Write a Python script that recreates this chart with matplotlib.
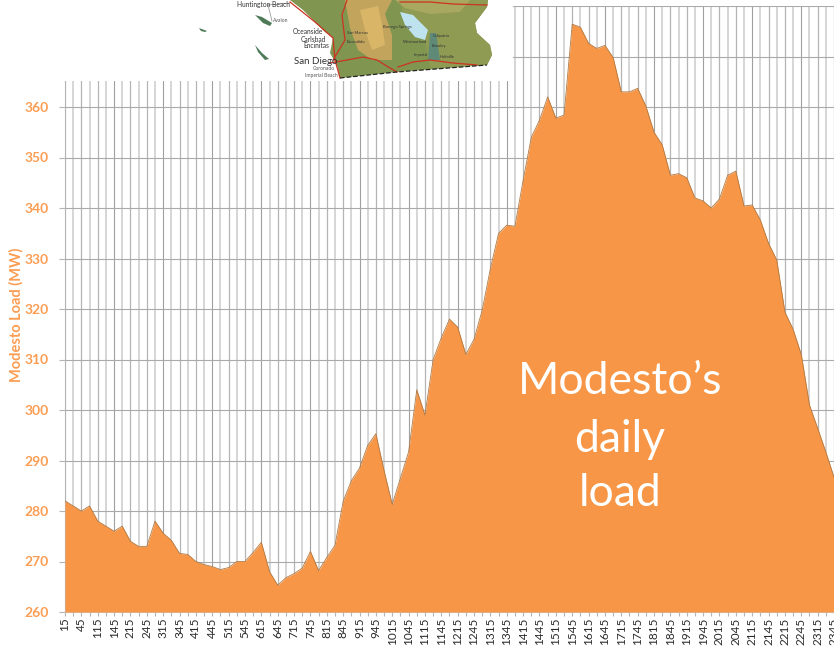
import matplotlib
matplotlib.use('Agg')
import matplotlib.pyplot as plt
from matplotlib.patches import Polygon, Rectangle

plt.rcParams['font.family'] = ['Lato', 'DejaVu Sans']

# load every 15 minutes, 0015 to 2345
times = ['15','30','45','100','115','130','145','200','215','230','245','300','315','330','345','400',
         '415','430','445','500','515','530','545','600','615','630','645','700','715','730','745','800',
         '815','830','845','900','915','930','945','1000','1015','1030','1045','1100','1115','1130','1145','1200',
         '1215','1230','1245','1300','1315','1330','1345','1400','1415','1430','1445','1500','1515','1530','1545','1600',
         '1615','1630','1645','1700','1715','1730','1745','1800','1815','1830','1845','1900','1915','1930','1945','2000',
         '2015','2030','2045','2100','2115','2130','2145','2200','2215','2230','2245','2300','2315','2330','2345']
load = [282,281,280,281,278,277,276,277,274,273,273,278,275.6,274.2,271.6,271.4,
        270,269.4,269,268.4,268.8,270,270,271.8,273.8,268,265.3,266.8,267.6,268.7,272,268.2,
        270.8,273.2,281.9,286,288.5,293,295.3,288,281.3,286.5,291.7,304,299,310,314.3,318,
        316.4,311,314,319.8,328,335,336.6,336.4,345.5,354,357.4,362,357.8,358.4,376.4,375.8,372.6,371.6,
        372.2,369.8,363,363,363.7,360.2,355,352.5,346.5,346.8,346,342,341.4,340,341.8,346.5,347.3,340.4,340.6,
        337.6,333,329.7,319.4,316,311,301,296.4,291.7,286.7]
y_ticks = [260,270,280,290,300,310,320,330,340,350,360,370,380]

orange = '#f79646'
label_orange = '#fb9d52'

fig = plt.figure(figsize=(8.34,6.46), dpi=100)
ax = fig.add_axes([65/834, 1-612/646, 769/834, 606/646])

x = list(range(len(times)))
ax.fill_between(x, load, 260, color=orange, zorder=3, lw=0)
ax.plot(x, load, color='#b07a45', lw=0.6, zorder=4)
ax.set_xlim(0,94)
ax.set_ylim(260,380)

ax.set_xticks(x)
ax.set_xticklabels([t if i%2==0 else '' for i,t in enumerate(times)], rotation=90, fontsize=8.5, color='#2a2a2a')
ax.set_yticks(y_ticks)
ax.set_yticklabels([str(v) if v<=360 else '' for v in y_ticks], fontsize=10, color=label_orange, fontweight='bold')
ax.tick_params(axis='x', length=3, color='#b5b5b5', pad=1)
ax.tick_params(axis='y', length=4, color='#b5b5b5', pad=8)
ax.grid(True, axis='y', color='#aaaaaa', lw=0.8, zorder=0)
ax.grid(True, axis='x', color='#b4b4b4', lw=0.9, zorder=0)
ax.set_axisbelow(True)
# the screenshot was rescaled, so the verticals come out uneven
for i, line in enumerate(ax.get_xgridlines()):
    if i%6==0:
        line.set_color('#a0a0a0')
        line.set_linewidth(0.8)
    elif i%2==1:
        line.set_color('#d6d6d6')
        line.set_linewidth(1.4)
for s in ['top','right']:
    ax.spines[s].set_visible(False)
ax.spines['left'].set_color('#b5b5b5')
ax.spines['bottom'].set_color('#c8c8c8')
ax.set_ylabel('Modesto Load (MW)', fontsize=10.5, color=label_orange, fontweight='bold')
ax.yaxis.set_label_coords(-41/769, 0.49)

# overlay in image pixels, for the pasted map and the callout text
ov = fig.add_axes([0,0,1,1], facecolor='none')
ov.set_xlim(0,834)
ov.set_ylim(646,0)
ov.axis('off')
ov.add_patch(Rectangle((0,0),513,81,color='white',lw=0))
ov.add_patch(Rectangle((0,0),834,5.5,color='white',lw=0))

land = [(290,0),(303,10),(315,22),(325,32),(333,38),(330,53),(337,65),(340,78),(397,72),(487,65),(492,55),(490,45),(477,33),(475,23),(487,7),(488,0)]
ov.add_patch(Polygon(land, color='#7f9550', lw=0, zorder=2))
# desert side and mountains
ov.add_patch(Polygon([(400,0),(488,0),(487,7),(475,23),(477,33),(490,45),(492,55),(487,65),(430,68),(425,40),(405,25)], color='#8f9a52', lw=0, zorder=2))
ov.add_patch(Polygon([(345,0),(392,0),(385,14),(392,35),(392,60),(372,60),(358,50),(350,28)], color='#c2a45c', lw=0, zorder=2))
ov.add_patch(Polygon([(360,10),(378,6),(382,24),(385,45),(372,50),(365,30)], color='#d9b567', lw=0, zorder=2))
ov.add_patch(Polygon([(395,0),(470,0),(460,12),(430,14),(405,8)], color='#a9a860', lw=0, zorder=2))
ov.add_patch(Polygon([(430,33),(436,33),(440,60),(428,60)], color='#5f8a78', lw=0, zorder=2))
ov.add_patch(Polygon([(400,12),(413,15),(428,30),(425,40),(415,37),(405,25)], color='#bfe3ee', lw=0, zorder=3))
for isl in ([(255,15),(262,17),(272,23),(270,26),(263,23)],
            [(199,28),(207,31),(205,32),(201,31)],
            [(255,45),(262,53),(269,59),(265,60),(258,52)]):
    ov.add_patch(Polygon(isl, color='#4e7a58', lw=0, zorder=3))
for pts in ([(290,2),(315,22),(333,38),(335,60),(340,78)],
            [(330,63),(347,60),(363,57),(377,60),(390,68),(397,72)],
            [(398,67),(413,62),(430,60),(453,63),(477,65)],
            [(400,2),(430,2),(453,4),(487,5)],
            [(347,0),(342,15),(345,40),(333,60)]):
    ov.plot(*zip(*pts), color='#cc3322', lw=0.9, zorder=4)
ov.plot([340,397,487],[78,72,65], color='#222222', lw=0.9, ls='--', zorder=4)
ov.plot([272,268,290],[21,5,3], color='#888888', lw=0.5, zorder=3)

dark = '#333333'
ov.text(290,4.5,'Huntington Beach', fontsize=4.8, color=dark, ha='right', va='center', zorder=5)
ov.text(323,31,'Oceanside', fontsize=4.8, color=dark, ha='right', va='center', zorder=5)
ov.text(326,39,'Carlsbad', fontsize=4.8, color=dark, ha='right', va='center', zorder=5)
ov.text(329,46,'Encinitas', fontsize=4.8, color=dark, ha='right', va='center', zorder=5)
ov.text(338,62,'San Diego', fontsize=7, color=dark, ha='right', va='center', zorder=5)
ov.text(335,69,'Coronado', fontsize=3.6, color='#555555', ha='right', va='center', zorder=5)
ov.text(338,76,'Imperial Beach', fontsize=3.6, color='#555555', ha='right', va='center', zorder=5)
ov.text(273,21,'Avalon', fontsize=3.6, color='#555555', ha='left', va='center', zorder=5)
ov.text(383,27,'Borrego Springs', fontsize=3, color=dark, ha='left', va='center', zorder=5)
ov.text(403,42,'Westmorland', fontsize=3, color=dark, ha='left', va='center', zorder=5)
ov.text(433,36,'Calipatria', fontsize=3, color=dark, ha='left', va='center', zorder=5)
ov.text(432,46,'Brawley', fontsize=3, color=dark, ha='left', va='center', zorder=5)
ov.text(414,55,'Imperial', fontsize=3, color=dark, ha='left', va='center', zorder=5)
ov.text(440,57,'Holtville', fontsize=3, color=dark, ha='left', va='center', zorder=5)
ov.text(347,33,'San Marcos', fontsize=3, color=dark, ha='left', va='center', zorder=5)
ov.text(347,42,'Escondido', fontsize=3, color=dark, ha='left', va='center', zorder=5)

ov.text(620,381,'Modesto\u2019s', fontsize=32, color='white', ha='center', va='center', zorder=6)
ov.text(620,439,'daily', fontsize=32, color='white', ha='center', va='center', zorder=6)
ov.text(620,494,'load', fontsize=32, color='white', ha='center', va='center', zorder=6)

fig.savefig('out.png', dpi=100)
